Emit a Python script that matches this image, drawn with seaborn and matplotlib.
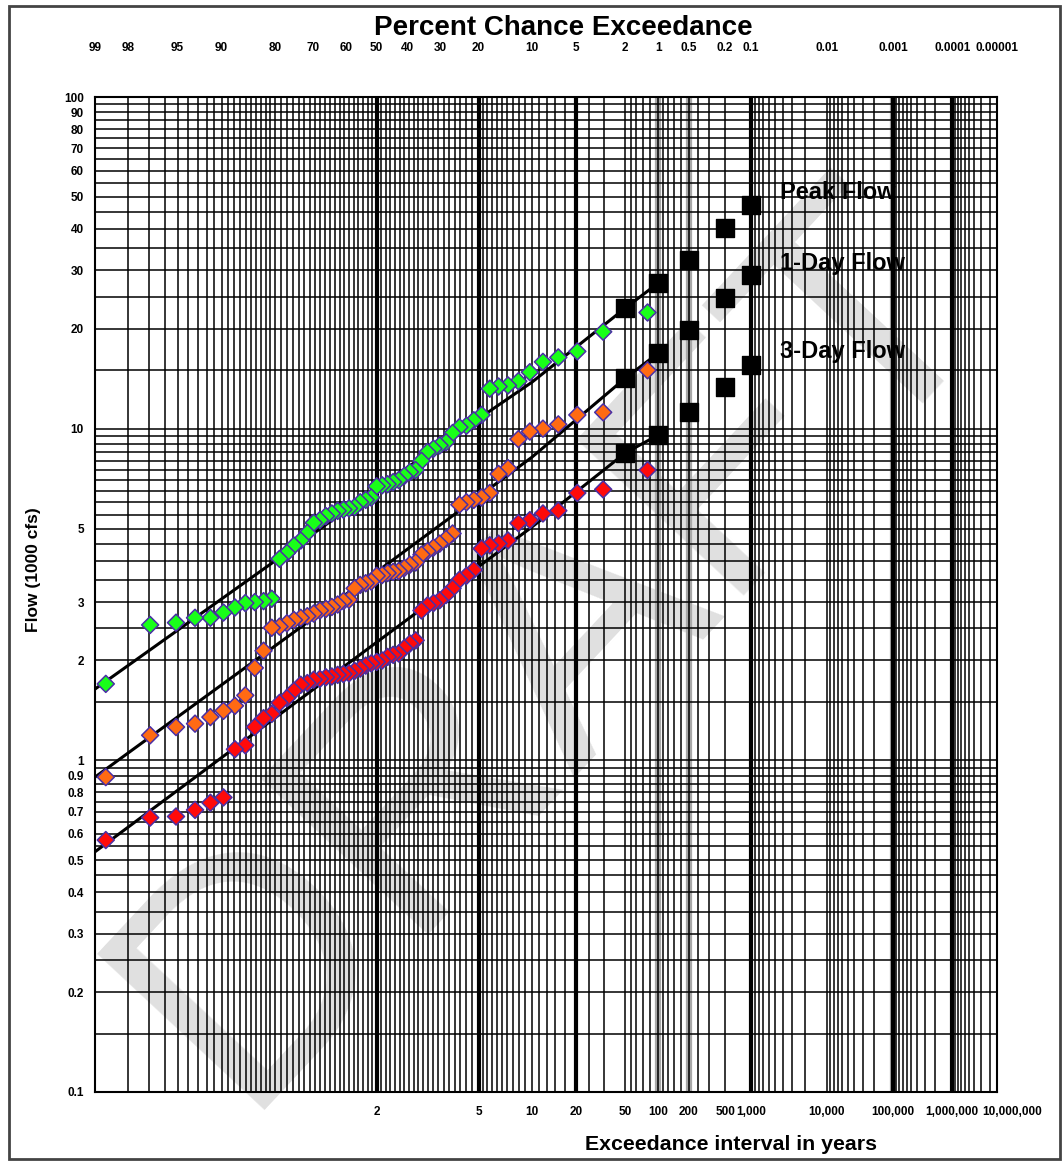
from statistics import NormalDist

import numpy as np
import pandas as pd
import matplotlib.pyplot as plt
import seaborn as sns
from matplotlib.patches import Rectangle
from matplotlib.ticker import FixedLocator, NullFormatter

sns.set_style("white")
plt.rcParams['font.family'] = ['Liberation Sans', 'DejaVu Sans']
for key in ['text.color', 'axes.labelcolor', 'xtick.color', 'ytick.color', 'axes.edgecolor']:
    plt.rcParams[key] = 'black'

# annual maximum flows (1000 cfs), largest first
peak_flow = [22.4, 19.6, 17.1, 16.4, 15.9, 14.8, 13.9, 13.5, 13.4, 13.2,
             11.0, 10.6, 10.2, 10.1, 9.7, 9.1, 8.9, 8.7, 8.5, 8.0,
             7.5, 7.4, 7.2, 7.0, 6.9, 6.8, 6.75, 6.7, 6.2, 6.1,
             6.0, 5.8, 5.75, 5.7, 5.65, 5.55, 5.45, 5.3, 5.2, 4.85,
             4.6, 4.44, 4.22, 4.05, 3.07, 3.02, 3.0, 2.98, 2.89, 2.79,
             2.69, 2.69, 2.6, 2.56, 1.7]
one_day_flow = [15.0, 11.2, 11.0, 10.3, 10.0, 9.8, 9.3, 7.6, 7.3, 6.4,
                6.2, 6.1, 6.0, 5.9, 4.83, 4.65, 4.5, 4.38, 4.27, 4.17,
                3.95, 3.89, 3.8, 3.72, 3.7, 3.67, 3.62, 3.6, 3.46, 3.42,
                3.38, 3.3, 3.05, 3.02, 2.95, 2.9, 2.86, 2.83, 2.77, 2.72,
                2.69, 2.65, 2.59, 2.53, 2.51, 2.14, 1.9, 1.57, 1.46, 1.41,
                1.35, 1.29, 1.26, 1.19, 0.89]
three_day_flow = [7.5, 6.56, 6.4, 5.66, 5.55, 5.3, 5.19, 4.6, 4.5, 4.45,
                  4.35, 3.75, 3.6, 3.5, 3.3, 3.15, 3.04, 2.98, 2.93, 2.83,
                  2.3, 2.25, 2.18, 2.1, 2.08, 2.05, 2.0, 1.98, 1.96, 1.93,
                  1.89, 1.86, 1.83, 1.82, 1.81, 1.79, 1.78, 1.76, 1.75, 1.71,
                  1.69, 1.62, 1.54, 1.49, 1.38, 1.34, 1.26, 1.11, 1.08, 0.773,
                  0.745, 0.709, 0.677, 0.672, 0.575]

# computed frequency curves
curve_pct = [99, 50, 10, 2, 1]
peak_curve = [1.64, 6.6, 13.8, 23.1, 27.5]
one_day_curve = [0.89, 3.7, 8.2, 14.2, 16.9]
three_day_curve = [0.53, 2.27, 5.05, 8.45, 9.57]

freq_pct = [2, 1, 0.5, 0.2, 0.1]
peak_freq = [23.1, 27.5, 32.3, 40.3, 47.2]
one_day_freq = [14.2, 16.9, 19.8, 24.8, 29.0]
three_day_freq = [8.45, 9.57, 11.2, 13.4, 15.6]

years = [2, 5, 10, 20, 50, 100, 200, 500, 1000, 10000, 100000, 1000000]
year_labels = ['2', '5', '10', '20', '50', '100', '200', '500', '1,000',
               '10,000', '100,000', '1,000,000']
top_pct = [99, 98, 95, 90, 80, 70, 60, 50, 40, 30, 20, 10, 5, 2, 1,
           0.5, 0.2, 0.1, 0.01, 0.001, 0.0001]
top_labels = ['99', '98', '95', '90', '80', '70', '60', '50', '40', '30', '20',
              '10', '5', '2', '1', '0.5', '0.2', '0.1', '0.01', '0.001', '0.0001']
flow_ticks = [0.1, 0.2, 0.3, 0.4, 0.5, 0.6, 0.7, 0.8, 0.9, 1, 2, 3, 5,
              10, 20, 30, 40, 50, 60, 70, 80, 90, 100]
flow_labels = ['0.1', '0.2', '0.3', '0.4', '0.5', '0.6', '0.7', '0.8', '0.9',
               '1', '2', '3', '5', '10', '20', '30', '40', '50', '60', '70',
               '80', '90', '100']

names = ['Peak Flow', '1-Day Flow', '3-Day Flow']
colors = {'Peak Flow': '#19ff19', '1-Day Flow': '#ff6a13', '3-Day Flow': '#ff0a0a'}

frames = []
for name, vals in zip(names, [peak_flow, one_day_flow, three_day_flow]):
    n = len(vals)
    rank = np.arange(1, n + 1)
    frames.append(pd.DataFrame({'series': name, 'flow': vals,
                                'exceed': 100 * (rank - 0.3) / (n + 0.4)}))
pts = pd.concat(frames, ignore_index=True)

# normal probability scale on percent exceedance
ND = NormalDist()


def to_z(p):
    p = np.clip(np.asarray(p, dtype=float), 1e-10, 100 - 1e-10)
    return np.vectorize(lambda v: ND.inv_cdf(1 - v / 100), otypes=[float])(p)


def from_z(z):
    z = np.asarray(z, dtype=float)
    return np.vectorize(lambda v: 100 * ND.cdf(-v), otypes=[float])(z)


fig = plt.figure(figsize=(10.64, 11.62), dpi=100)
ax = fig.add_axes([95 / 1064, 1 - 1092 / 1162, 902 / 1064, 995 / 1162])
ax.set_facecolor('none')

for vals in [peak_curve, one_day_curve, three_day_curve]:
    sns.lineplot(x=curve_pct, y=vals, color='black', lw=2.2, estimator=None,
                 ax=ax, zorder=3)
sns.scatterplot(data=pts, x='exceed', y='flow', hue='series', palette=colors,
                marker='D', s=75, edgecolor='#4a2fa5', linewidth=1.1,
                legend=False, ax=ax, zorder=4)
for vals in [peak_freq, one_day_freq, three_day_freq]:
    sns.scatterplot(x=freq_pct, y=vals, color='black', marker='s', s=150,
                    edgecolor='black', ax=ax, zorder=5)

ax.set_xscale('function', functions=(to_z, from_z))
ax.set_yscale('log')
# the scale is decreasing in percent, so give the limits low-to-high
xlim = (1.5e-5, 99)
ax.set_xlim(*xlim)
ax.set_ylim(0.1, 100)

# probability-paper grid
grid_pct = np.concatenate(
    [np.arange(99, 80, -1.0), np.arange(80, 20, -1.5), np.arange(20, 2, -1.0),
     np.arange(2, 1, -0.2), np.arange(1, 0.1, -0.1)]
    + [np.arange(10, 1, -1.0) * 10.0 ** -k for k in range(2, 6)])
grid_flow = np.concatenate([np.arange(0.1, 1, 0.05), np.arange(1, 10, 0.5),
                            np.arange(10, 100.1, 5)])
ax.xaxis.set_major_locator(FixedLocator([100 / t for t in years]))
ax.xaxis.set_ticklabels(year_labels)
ax.xaxis.set_minor_locator(FixedLocator(grid_pct))
ax.xaxis.set_minor_formatter(NullFormatter())
ax.yaxis.set_major_locator(FixedLocator(flow_ticks))
ax.yaxis.set_ticklabels(flow_labels)
ax.yaxis.set_minor_locator(FixedLocator(grid_flow))
ax.yaxis.set_minor_formatter(NullFormatter())
ax.grid(True, which='both', color='black', lw=1.1)
for p in [50, 20, 5, 0.1, 0.001, 0.0001]:
    ax.axvline(p, color='black', lw=3, zorder=1)
for p in [1, 0.5, 0.001]:
    ax.axvline(p, color='#a8a8a8', lw=4.5, zorder=0.3)

ax.tick_params(axis='both', which='both', length=0, labelsize=8.5)
ax.tick_params(axis='x', pad=10)
ax.tick_params(axis='y', pad=8)
for lab in ax.get_xticklabels() + ax.get_yticklabels():
    lab.set_fontweight('bold')
for s in ax.spines.values():
    s.set_linewidth(1.5)

ax.annotate('10,000,000', xy=(1e-5, 0), xycoords=ax.get_xaxis_transform(),
            xytext=(4, -10), textcoords='offset points', ha='center', va='top',
            fontsize=8.5, fontweight='bold', annotation_clip=False)

top = ax.twiny()
top.set_xscale('function', functions=(to_z, from_z))
top.set_xlim(*xlim)
top.set_xticks(top_pct, labels=top_labels)
top.xaxis.set_minor_locator(FixedLocator([]))
top.tick_params(axis='x', length=0, pad=31, labelsize=8.5)
for lab in top.get_xticklabels():
    lab.set_fontweight('bold')
for s in top.spines.values():
    s.set_visible(False)
ax.annotate('0.00001', xy=(1, 1), xycoords='axes fraction',
            xytext=(0, 31), textcoords='offset points', ha='center', va='bottom',
            fontsize=8.5, fontweight='bold', annotation_clip=False)

ax.set_xlabel('Exceedance interval in years', fontsize=15.3, fontweight='bold')
ax.xaxis.set_label_coords(0.705, -0.043)
ax.set_ylabel('Flow (1000 cfs)', fontsize=12.5, fontweight='bold')
ax.yaxis.set_label_coords(-0.06, 0.525)

for name, yy in zip(names, [0.9045, 0.833, 0.744]):
    ax.text(0.759, yy, name, transform=ax.transAxes, ha='left', va='center',
            fontsize=17, fontweight='bold', zorder=6)

fig.text(0.529, 0.976, 'Percent Chance Exceedance', ha='center', va='center',
         fontsize=20, fontweight='bold')
fig.text(0.52, 0.445, 'DRAFT', ha='center', va='center', fontsize=240,
         color='#e0e0e0', rotation=47, zorder=-5)
fig.add_artist(Rectangle((0.008, 0.003), 0.988, 0.992, transform=fig.transFigure,
                         fill=False, edgecolor='#444444', lw=2))

fig.savefig('out.png', dpi=100, facecolor='white')
